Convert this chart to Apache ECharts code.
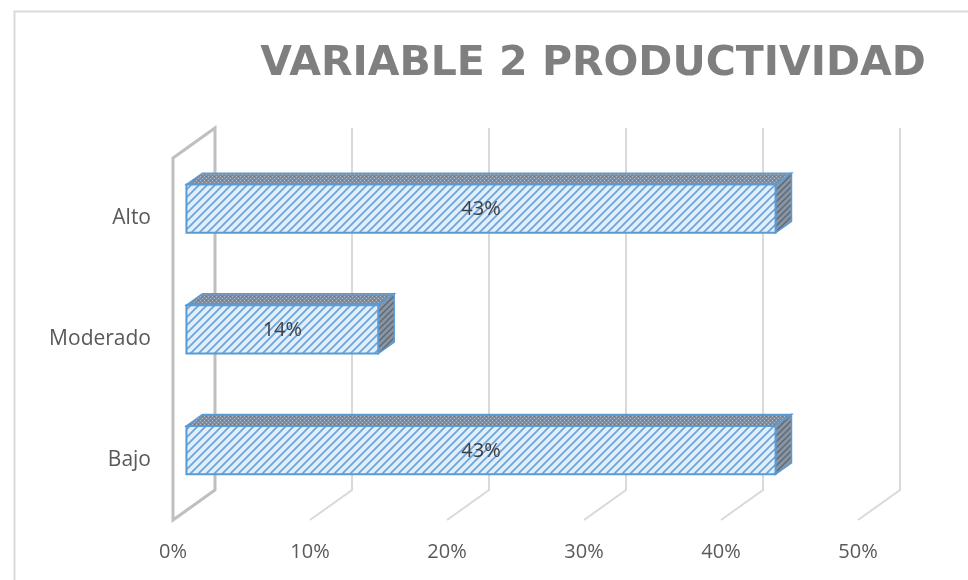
<!DOCTYPE html>
<html>
<head>
<meta charset="utf-8">
<script src="https://cdn.jsdelivr.net/npm/echarts@6/dist/echarts.min.js"></script>
<style>
  html, body { margin: 0; padding: 0; background: #fff; }
  #chart { width: 968px; height: 580px; }
</style>
</head>
<body>
<div id="chart"></div>
<script>
const categories = ['Bajo', 'Moderado', 'Alto'];
const values = [0.43, 0.14, 0.43];
const xTicks = [0, 0.1, 0.2, 0.3, 0.4, 0.5];

// oblique 3D offsets (front plane -> back wall)
const DX = 42, DY = -30;
const D1 = 0.32, D2 = 0.70; // bar front / back depth

function makePattern(w, h, draw) {
  const c = document.createElement('canvas');
  c.width = w; c.height = h;
  draw(c.getContext('2d'), w, h);
  return { image: c, repeat: 'repeat' };
}

const frontFill = makePattern(8, 8, (ctx, w, h) => {
  ctx.fillStyle = '#e3eef9';
  ctx.fillRect(0, 0, w, h);
  ctx.strokeStyle = '#6aa3db';
  ctx.lineWidth = 1.7;
  [[-4, 4, 4, -4], [0, 8, 8, 0], [4, 12, 12, 4]].forEach(l => {
    ctx.beginPath(); ctx.moveTo(l[0], l[1]); ctx.lineTo(l[2], l[3]); ctx.stroke();
  });
});

const topFill = makePattern(4, 4, (ctx, w, h) => {
  ctx.fillStyle = '#7f8da1';
  ctx.fillRect(0, 0, w, h);
  ctx.fillStyle = '#aebbcc';
  ctx.fillRect(0, 0, 1, 1); ctx.fillRect(2, 2, 1, 1);
  ctx.fillStyle = '#6b7888';
  ctx.fillRect(2, 0, 1, 1);
});

const sideFill = makePattern(6, 6, (ctx, w, h) => {
  ctx.fillStyle = '#8a95a3';
  ctx.fillRect(0, 0, w, h);
  ctx.strokeStyle = '#5f6975';
  ctx.lineWidth = 1.5;
  [[-3, 3, 3, -3], [0, 6, 6, 0], [3, 9, 9, 3]].forEach(l => {
    ctx.beginPath(); ctx.moveTo(l[0], l[1]); ctx.lineTo(l[2], l[3]); ctx.stroke();
  });
});

const EDGE = '#5b9bd5';

function renderGrid(params, api) {
  const cs = params.coordSys;
  const x = api.coord([api.value(0), 0])[0];
  const top = cs.y, bottom = cs.y + cs.height;
  if (api.value(0) === 0) {
    return {
      type: 'polygon',
      shape: { points: [[x, bottom], [x, top], [x + DX, top + DY], [x + DX, bottom + DY]] },
      style: { fill: null, stroke: '#bfbfbf', lineWidth: 3 },
      z2: 0
    };
  }
  return {
    type: 'polyline',
    shape: { points: [[x + DX, top + DY], [x + DX, bottom + DY], [x, bottom]] },
    style: { fill: null, stroke: '#d9d9d9', lineWidth: 2 },
    z2: 0
  };
}

function renderBar(params, api) {
  const v = api.value(0), cat = api.value(1);
  const p0 = api.coord([0, cat]);
  const p1 = api.coord([v, cat]);
  const band = api.size([0, 1])[1];
  const h = band * 0.4;
  const fx0 = p0[0] + DX * D1, fx1 = p1[0] + DX * D1;
  const fy = p0[1] + DY * D1;
  const t = fy - h / 2, b = fy + h / 2;
  const ox = DX * (D2 - D1), oy = DY * (D2 - D1);
  return {
    type: 'group',
    children: [
      {
        type: 'polygon',
        shape: { points: [[fx0, t], [fx1, t], [fx1 + ox, t + oy], [fx0 + ox, t + oy]] },
        style: { fill: topFill, stroke: EDGE, lineWidth: 1.5 }
      },
      {
        type: 'polygon',
        shape: { points: [[fx1, t], [fx1 + ox, t + oy], [fx1 + ox, b + oy], [fx1, b]] },
        style: { fill: sideFill, stroke: EDGE, lineWidth: 1.5 }
      },
      {
        type: 'rect',
        shape: { x: fx0, y: t, width: fx1 - fx0, height: h },
        style: { fill: frontFill, stroke: EDGE, lineWidth: 2 }
      },
      {
        type: 'text',
        x: (fx0 + fx1) / 2, y: fy + 1,
        style: {
          text: Math.round(v * 100) + '%',
          fill: '#404040', font: '20px "Open Sans"',
          align: 'center', verticalAlign: 'middle'
        }
      }
    ]
  };
}

const chart = echarts.init(document.getElementById('chart'));
chart.setOption({
  animation: false,
  backgroundColor: '#fff',
  title: {
    text: 'VARIABLE 2 PRODUCTIVIDAD',
    left: 588, top: 39, textAlign: 'center',
    textStyle: { fontFamily: 'DejaVu Sans', fontWeight: 'bold', fontSize: 41, color: '#7f7f7f' }
  },
  graphic: [{
    type: 'rect', left: 12, top: 9, z: -1,
    shape: { width: 1000, height: 1000 },
    style: { fill: null, stroke: '#d9d9d9', lineWidth: 2 }
  }],
  grid: { left: 173, right: 110, top: 158, bottom: 60 },
  xAxis: {
    type: 'value', min: 0, max: 0.5, interval: 0.1,
    axisLine: { show: false }, axisTick: { show: false }, splitLine: { show: false },
    axisLabel: {
      margin: 22, color: '#595959', fontSize: 20, fontFamily: 'Open Sans',
      formatter: v => Math.round(v * 100) + '%'
    }
  },
  yAxis: {
    type: 'category', data: categories,
    axisLine: { show: false }, axisTick: { show: false }, splitLine: { show: false },
    axisLabel: {
      margin: 22, color: '#595959', fontSize: 21, fontFamily: 'Open Sans',
      padding: [14, 0, 0, 0]
    }
  },
  series: [
    {
      type: 'custom', renderItem: renderGrid, silent: true, z: 1,
      encode: { x: 0, y: 1 },
      data: xTicks.map(t => [t, 0])
    },
    {
      type: 'custom', renderItem: renderBar, z: 2,
      encode: { x: 0, y: 1 },
      data: values.map((v, i) => [v, i])
    }
  ]
});
</script>
</body>
</html>
